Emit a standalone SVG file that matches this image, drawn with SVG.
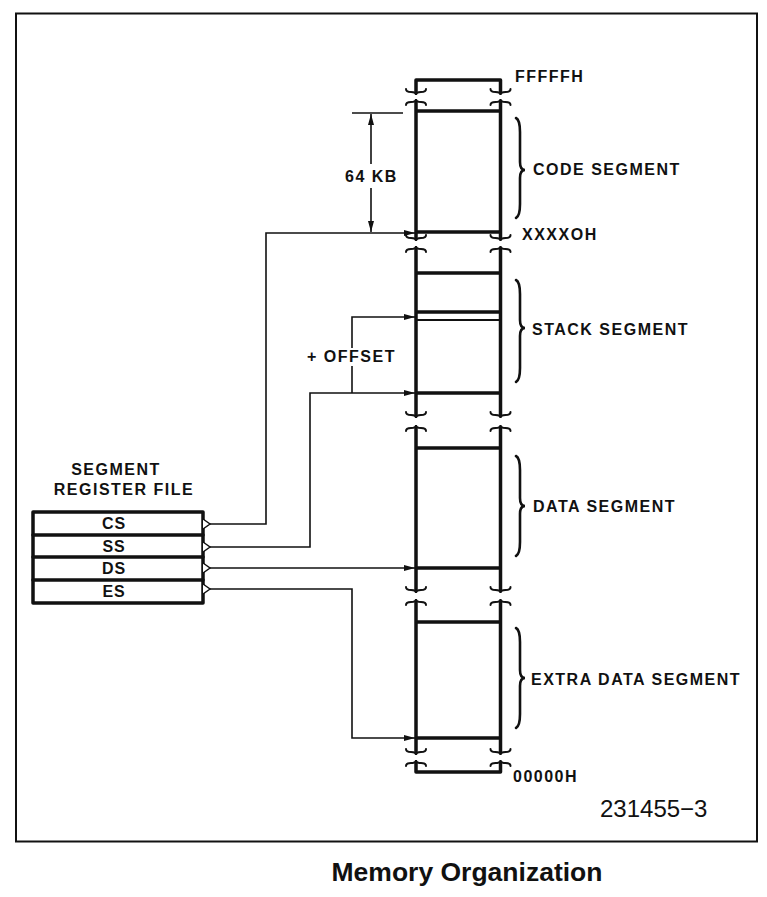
<svg xmlns="http://www.w3.org/2000/svg" width="767" height="897" viewBox="0 0 767 897">
<style>
.t{font-family:"Liberation Sans",Arial,sans-serif;font-weight:bold;font-size:16px;letter-spacing:1.5px;fill:#111}
.r{font-family:"Liberation Sans",Arial,sans-serif;font-weight:bold;font-size:16px;letter-spacing:0.8px;fill:#111;text-anchor:middle}
.thick{stroke:#111;stroke-width:3.5;fill:none;stroke-linecap:round;stroke-linejoin:round}
.brk{stroke:#111;stroke-width:2;fill:none;stroke-linecap:round}
.br{stroke:#111;stroke-width:2.6;fill:none;stroke-linecap:round}
.cn{stroke:#111;stroke-width:1.6;fill:none}
</style>
<defs>
<marker id="ah" markerUnits="userSpaceOnUse" markerWidth="11" markerHeight="6" refX="11" refY="3" orient="auto-start-reverse">
<path d="M0,0 L11,3 L0,6 z" fill="#111"/>
</marker>
</defs>
<rect x="16" y="13.5" width="741" height="828" fill="#fff" stroke="#111" stroke-width="2"/>

<g id="memory">
<path class="thick" d="M416,92 V80 H500.5 V92"/>
<path class="brk" d="M406,89 Q406,92 411,92 Q416,92 416,95 Q416,92 421,92 Q426,92 426,89"/>
<path class="brk" d="M490.5,89 Q490.5,92 495.5,92 Q500.5,92 500.5,95 Q500.5,92 505.5,92 Q510.5,92 510.5,89"/>

<path class="thick" d="M416,102 V238 M500.5,102 V238 M416,111 H500.5 M416,232 H500.5"/>
<path class="brk" d="M406,105 Q406,102 411,102 Q416,102 416,99 Q416,102 421,102 Q426,102 426,105"/>
<path class="brk" d="M490.5,105 Q490.5,102 495.5,102 Q500.5,102 500.5,99 Q500.5,102 505.5,102 Q510.5,102 510.5,105"/>
<path class="brk" d="M406,235 Q406,238 411,238 Q416,238 416,241 Q416,238 421,238 Q426,238 426,235"/>
<path class="brk" d="M490.5,235 Q490.5,238 495.5,238 Q500.5,238 500.5,241 Q500.5,238 505.5,238 Q510.5,238 510.5,235"/>

<path class="thick" d="M416,249 V415 M500.5,249 V415 M416,273 H500.5 M416,312 H500.5 M416,393 H500.5"/>
<path d="M416,320 H500.5" stroke="#111" stroke-width="2.2"/>
<path class="brk" d="M406,252 Q406,249 411,249 Q416,249 416,246 Q416,249 421,249 Q426,249 426,252"/>
<path class="brk" d="M490.5,252 Q490.5,249 495.5,249 Q500.5,249 500.5,246 Q500.5,249 505.5,249 Q510.5,249 510.5,252"/>
<path class="brk" d="M406,412 Q406,415 411,415 Q416,415 416,418 Q416,415 421,415 Q426,415 426,412"/>
<path class="brk" d="M490.5,412 Q490.5,415 495.5,415 Q500.5,415 500.5,418 Q500.5,415 505.5,415 Q510.5,415 510.5,412"/>

<path class="thick" d="M416,428 V590 M500.5,428 V590 M416,448 H500.5 M416,568 H500.5"/>
<path class="brk" d="M406,431 Q406,428 411,428 Q416,428 416,425 Q416,428 421,428 Q426,428 426,431"/>
<path class="brk" d="M490.5,431 Q490.5,428 495.5,428 Q500.5,428 500.5,425 Q500.5,428 505.5,428 Q510.5,428 510.5,431"/>
<path class="brk" d="M406,587 Q406,590 411,590 Q416,590 416,593 Q416,590 421,590 Q426,590 426,587"/>
<path class="brk" d="M490.5,587 Q490.5,590 495.5,590 Q500.5,590 500.5,593 Q500.5,590 505.5,590 Q510.5,590 510.5,587"/>

<path class="thick" d="M416,602 V752 M500.5,602 V752 M416,622 H500.5 M416,738 H500.5"/>
<path class="brk" d="M406,605 Q406,602 411,602 Q416,602 416,599 Q416,602 421,602 Q426,602 426,605"/>
<path class="brk" d="M490.5,605 Q490.5,602 495.5,602 Q500.5,602 500.5,599 Q500.5,602 505.5,602 Q510.5,602 510.5,605"/>
<path class="brk" d="M406,749 Q406,752 411,752 Q416,752 416,755 Q416,752 421,752 Q426,752 426,749"/>
<path class="brk" d="M490.5,749 Q490.5,752 495.5,752 Q500.5,752 500.5,755 Q500.5,752 505.5,752 Q510.5,752 510.5,749"/>

<path class="thick" d="M416,763 V772 H500.5 V763"/>
<path class="brk" d="M406,766 Q406,763 411,763 Q416,763 416,760 Q416,763 421,763 Q426,763 426,766"/>
<path class="brk" d="M490.5,766 Q490.5,763 495.5,763 Q500.5,763 500.5,760 Q500.5,763 505.5,763 Q510.5,763 510.5,766"/>

<text class="t" x="515" y="82">FFFFFH</text>
<text class="t" x="522" y="240">XXXXOH</text>
<text class="t" x="513" y="782">00000H</text>
</g>

<g id="code-segment">
<path class="br" d="M516,118 Q520,120 520,132 L520,162 Q520,170 525,170 Q520,170 520,178 L520,204 Q520,216 516,218"/>
<text class="t" x="533" y="175">CODE SEGMENT</text>
</g>
<g id="stack-segment">
<path class="br" d="M516,280 Q520,282 520,294 L520,320 Q520,328 525,328 Q520,328 520,336 L520,368 Q520,380 516,382"/>
<text class="t" x="532" y="335">STACK SEGMENT</text>
</g>
<g id="data-segment">
<path class="br" d="M516,456 Q520,458 520,470 L520,498 Q520,506 525,506 Q520,506 520,514 L520,542 Q520,554 516,556"/>
<text class="t" x="533" y="512">DATA SEGMENT</text>
</g>
<g id="extra-data-segment">
<path class="br" d="M516,628 Q520,630 520,642 L520,670 Q520,678 525,678 Q520,678 520,686 L520,714 Q520,726 516,728"/>
<text class="t" x="531" y="685">EXTRA DATA SEGMENT</text>
</g>

<g id="size-64kb">
<line x1="352" y1="113" x2="403" y2="113" stroke="#111" stroke-width="1.6"/>
<line x1="371" y1="114" x2="371" y2="164" class="cn" marker-start="url(#ah)"/>
<line x1="371" y1="188" x2="371" y2="232" class="cn" marker-end="url(#ah)"/>
<text class="t" x="345" y="182">64 KB</text>
</g>

<g id="register-file">
<text class="t" x="116" y="475" text-anchor="middle" letter-spacing="1.4">SEGMENT</text>
<text class="t" x="124" y="495" text-anchor="middle" letter-spacing="1.2">REGISTER FILE</text>
<rect x="33" y="512" width="170" height="91" class="thick"/>
<path class="thick" d="M33,535 H203 M33,557 H203 M33,580 H203"/>
<path d="M203,519 L210,524 L203,529 M203,542 L210,547 L203,552 M203,563 L210,568 L203,573 M203,584 L210,589 L203,594" stroke="#111" stroke-width="1.5" fill="#fff"/>
<text class="r" x="114" y="529">CS</text>
<text class="r" x="114" y="552">SS</text>
<text class="r" x="114" y="574">DS</text>
<text class="r" x="114" y="597">ES</text>
</g>

<g id="connectors">
<polyline class="cn" points="210,524 266,524 266,233 415,233" marker-end="url(#ah)"/>
<polyline class="cn" points="210,547 310,547 310,393 415,393" marker-end="url(#ah)"/>
<line class="cn" x1="352" y1="393" x2="352" y2="366"/>
<polyline class="cn" points="352,348 352,317 415,317" marker-end="url(#ah)"/>
<line class="cn" x1="210" y1="568" x2="415" y2="568" marker-end="url(#ah)"/>
<polyline class="cn" points="210,589 352,589 352,738 415,738" marker-end="url(#ah)"/>
</g>
<text class="t" x="307" y="362" letter-spacing="1.2">+ OFFSET</text>

<text x="600" y="817" font-family="'Liberation Sans',Arial,sans-serif" font-size="24" fill="#111">231455−3</text>
<text x="467" y="881" text-anchor="middle" font-family="'Liberation Sans',Arial,sans-serif" font-size="26.5" font-weight="bold" fill="#111">Memory Organization</text>
</svg>
